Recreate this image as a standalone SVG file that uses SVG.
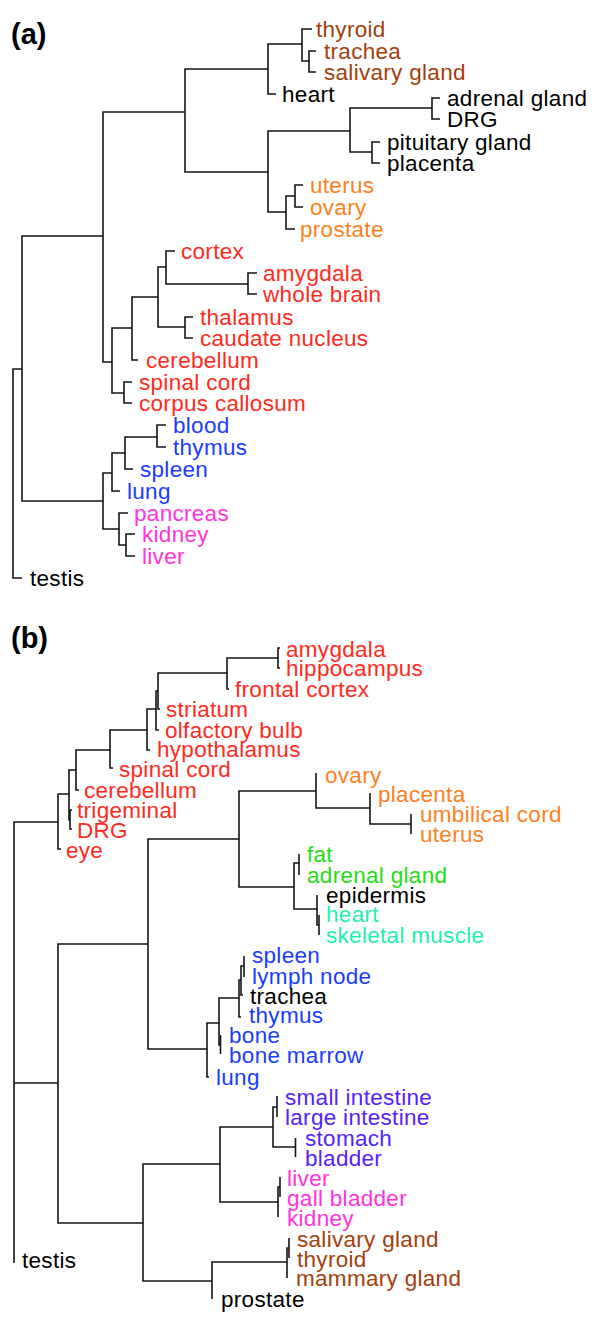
<svg xmlns="http://www.w3.org/2000/svg" width="600" height="1326" viewBox="0 0 600 1326">
<style>
text{font-family:"Liberation Sans",Arial,Helvetica,sans-serif;font-size:22.5px;letter-spacing:0.3px}
.t{font-weight:bold;font-size:29px;letter-spacing:0;fill:#000}
.k{fill:#000}.br{fill:#a3400c}.or{fill:#ff7f1e}.rd{fill:#ff2a1c}.bl{fill:#1a3cff}.mg{fill:#ff33dd}.gr{fill:#22dd11}.aq{fill:#1ff0ac}.vi{fill:#5522ff}
.c path{fill:none;stroke:#151515;stroke-width:1.6}
</style>
<rect width="600" height="1326" fill="#fff"/>
<g class="c" id="connectors-a">
<path d="M316,51H309V72H316"/>
<path d="M312,29H302V61H309"/>
<path d="M302,44H268V94H276"/>
<path d="M440,98H432V119H440"/>
<path d="M380,142H372V163H380"/>
<path d="M432,108H350V152H372"/>
<path d="M303,185H295V207H303"/>
<path d="M295,196H286V229H295"/>
<path d="M350,131H268V212H286"/>
<path d="M268,69H185V172H268"/>
<path d="M257,273H248V294H257"/>
<path d="M175,251H166V284H248"/>
<path d="M193,317H185V338H193"/>
<path d="M166,267H158V327H185"/>
<path d="M158,297H132V360H138"/>
<path d="M132,382H124V403H132"/>
<path d="M132,328H112V393H124"/>
<path d="M185,112H103V362H112"/>
<path d="M166,425H157V447H166"/>
<path d="M157,437H125V469H133"/>
<path d="M125,453H112V491H120"/>
<path d="M135,534H126V556H135"/>
<path d="M128,513H119V545H126"/>
<path d="M112,473H103V529H119"/>
<path d="M103,236H22V501H103"/>
<path d="M22,369H13V578H22"/>
</g>
<g class="c" id="connectors-b">
<path d="M280,648H278V668H280"/>
<path d="M278,658H227V689H229"/>
<path d="M227,673H158V709H160"/>
<path d="M158,691H156V730H159"/>
<path d="M156,709H147V750H150"/>
<path d="M147,730H110V768H113"/>
<path d="M110,750H76V790H79"/>
<path d="M72,810H70V829H72"/>
<path d="M76,770H69V820H70"/>
<path d="M69,794H58V849H61"/>
<path d="M58,822H14V1263"/>
<path d="M14,1083H58"/>
<path d="M148,944H58V1223H143"/>
<path d="M239,839H148V1049H207"/>
<path d="M316,791H239V887H294"/>
<path d="M316,773V808H370"/>
<path d="M370,793V824H411"/>
<path d="M411,814V834"/>
<path d="M299,863H294V909H317"/>
<path d="M299,854V875"/>
<path d="M317,895V925H319"/>
<path d="M319,915V935"/>
<path d="M219,1023H207V1077H209"/>
<path d="M239,998H219V1045H220.5"/>
<path d="M220.5,1035V1054"/>
<path d="M241,980H239V1017H241"/>
<path d="M244,966H241V995H243"/>
<path d="M244,956V977"/>
<path d="M220,1164H143V1281H212"/>
<path d="M273,1127H220V1202H278"/>
<path d="M277,1107H273V1147H295.5"/>
<path d="M277,1096V1117"/>
<path d="M295.5,1138V1157"/>
<path d="M280,1177V1197"/>
<path d="M280,1187H278V1217"/>
<path d="M287,1262H212V1299"/>
<path d="M289,1248H287V1278"/>
<path d="M289,1238V1258"/>
</g>
<g id="label-a"><text class="t" x="11" y="44">(a)</text></g>
<g id="a-thyroid"><text class="br" x="316" y="37">thyroid</text></g>
<g id="a-trachea"><text class="br" x="324" y="59">trachea</text></g>
<g id="a-salivary"><text class="br" x="324" y="80">salivary gland</text></g>
<g id="a-heart"><text class="k" x="282" y="102">heart</text></g>
<g id="a-adrenal"><text class="k" x="447" y="106">adrenal gland</text></g>
<g id="a-drg"><text class="k" x="447" y="127">DRG</text></g>
<g id="a-pituitary"><text class="k" x="387" y="150">pituitary gland</text></g>
<g id="a-placenta"><text class="k" x="387" y="171">placenta</text></g>
<g id="a-uterus"><text class="or" x="310" y="193">uterus</text></g>
<g id="a-ovary"><text class="or" x="310" y="215">ovary</text></g>
<g id="a-prostate"><text class="or" x="300" y="237">prostate</text></g>
<g id="a-cortex"><text class="rd" x="181" y="259">cortex</text></g>
<g id="a-amygdala"><text class="rd" x="263" y="281">amygdala</text></g>
<g id="a-wholebrain"><text class="rd" x="263" y="302">whole brain</text></g>
<g id="a-thalamus"><text class="rd" x="200" y="325">thalamus</text></g>
<g id="a-caudate"><text class="rd" x="200" y="346">caudate nucleus</text></g>
<g id="a-cerebellum"><text class="rd" x="146" y="368">cerebellum</text></g>
<g id="a-spinal"><text class="rd" x="139" y="390">spinal cord</text></g>
<g id="a-corpus"><text class="rd" x="139" y="411">corpus callosum</text></g>
<g id="a-blood"><text class="bl" x="173" y="433">blood</text></g>
<g id="a-thymus"><text class="bl" x="173" y="455">thymus</text></g>
<g id="a-spleen"><text class="bl" x="140" y="477">spleen</text></g>
<g id="a-lung"><text class="bl" x="127" y="499">lung</text></g>
<g id="a-pancreas"><text class="mg" x="134" y="521">pancreas</text></g>
<g id="a-kidney"><text class="mg" x="142" y="542">kidney</text></g>
<g id="a-liver"><text class="mg" x="142" y="564">liver</text></g>
<g id="a-testis"><text class="k" x="30" y="586">testis</text></g>
<g id="label-b"><text class="t" x="11" y="648">(b)</text></g>
<g id="b-amygdala"><text class="rd" x="286" y="657">amygdala</text></g>
<g id="b-hippocampus"><text class="rd" x="286" y="676">hippocampus</text></g>
<g id="b-frontal"><text class="rd" x="235" y="697">frontal cortex</text></g>
<g id="b-striatum"><text class="rd" x="166" y="717">striatum</text></g>
<g id="b-olfactory"><text class="rd" x="165" y="738">olfactory bulb</text></g>
<g id="b-hypothalamus"><text class="rd" x="157" y="757">hypothalamus</text></g>
<g id="b-spinal"><text class="rd" x="119" y="777">spinal cord</text></g>
<g id="b-cerebellum"><text class="rd" x="84" y="798">cerebellum</text></g>
<g id="b-trigeminal"><text class="rd" x="77" y="818">trigeminal</text></g>
<g id="b-drg"><text class="rd" x="77" y="838">DRG</text></g>
<g id="b-eye"><text class="rd" x="66" y="858">eye</text></g>
<g id="b-ovary"><text class="or" x="325" y="783">ovary</text></g>
<g id="b-placenta"><text class="or" x="378" y="802">placenta</text></g>
<g id="b-umbilical"><text class="or" x="420" y="822">umbilical cord</text></g>
<g id="b-uterus"><text class="or" x="420" y="842">uterus</text></g>
<g id="b-fat"><text class="gr" x="307" y="862">fat</text></g>
<g id="b-adrenal"><text class="gr" x="307" y="883">adrenal gland</text></g>
<g id="b-epidermis"><text class="k" x="326" y="903">epidermis</text></g>
<g id="b-heart"><text class="aq" x="326" y="922">heart</text></g>
<g id="b-skeletal"><text class="aq" x="326" y="943">skeletal muscle</text></g>
<g id="b-spleen"><text class="bl" x="252" y="963">spleen</text></g>
<g id="b-lymph"><text class="bl" x="252" y="984">lymph node</text></g>
<g id="b-trachea"><text class="k" x="250" y="1004">trachea</text></g>
<g id="b-thymus"><text class="bl" x="249" y="1023">thymus</text></g>
<g id="b-bone"><text class="bl" x="229" y="1043">bone</text></g>
<g id="b-bonemarrow"><text class="bl" x="229" y="1063">bone marrow</text></g>
<g id="b-lung"><text class="bl" x="216" y="1085">lung</text></g>
<g id="b-smallint"><text class="vi" x="285" y="1105">small intestine</text></g>
<g id="b-largeint"><text class="vi" x="285" y="1125">large intestine</text></g>
<g id="b-stomach"><text class="vi" x="305" y="1146">stomach</text></g>
<g id="b-bladder"><text class="vi" x="305" y="1166">bladder</text></g>
<g id="b-liver"><text class="mg" x="287" y="1186">liver</text></g>
<g id="b-gall"><text class="mg" x="287" y="1206">gall bladder</text></g>
<g id="b-kidney"><text class="mg" x="287" y="1226">kidney</text></g>
<g id="b-salivary"><text class="br" x="297" y="1247">salivary gland</text></g>
<g id="b-thyroid"><text class="br" x="297" y="1267">thyroid</text></g>
<g id="b-mammary"><text class="br" x="296" y="1286">mammary gland</text></g>
<g id="b-testis"><text class="k" x="22" y="1268">testis</text></g>
<g id="b-prostate"><text class="k" x="221" y="1307">prostate</text></g>
</svg>
